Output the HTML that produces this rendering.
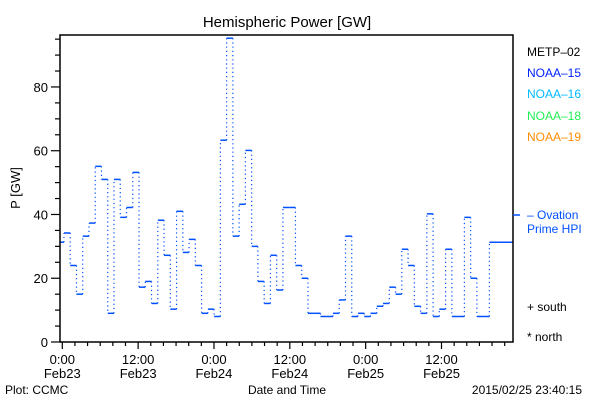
<!DOCTYPE html>
<html><head><meta charset="utf-8"><style>
body{margin:0;background:#fff}
svg{display:block;font-family:"Liberation Sans",sans-serif}
</style></head><body>
<svg id="chart" width="600" height="400" viewBox="0 0 600 400">
<rect x="0" y="0" width="600" height="400" fill="#fff"/>
<text x="287" y="27" font-size="15" text-anchor="middle">Hemispheric Power [GW]</text>
<g id="yaxis"></g>
<g id="xaxis"></g>
<g id="series"></g>
<rect x="60" y="35" width="453" height="307" fill="none" stroke="#000" stroke-width="1.5"/>
<text x="20" y="188" font-size="13" text-anchor="middle" transform="rotate(-90 20 188)">P [GW]</text>
<text x="287" y="394" font-size="12" text-anchor="middle">Date and Time</text>
<text x="5" y="394" font-size="12">Plot: CCMC</text>
<text x="582" y="394" font-size="12" text-anchor="end">2015/02/25 23:40:15</text>
<g font-size="12">
<text x="527" y="56" fill="#000">METP–02</text>
<text x="527" y="77" fill="#0022ff">NOAA–15</text>
<text x="527" y="98" fill="#00bbff">NOAA–16</text>
<text x="527" y="120" fill="#22ee55">NOAA–18</text>
<text x="527" y="141" fill="#ff8c00">NOAA–19</text>
<line x1="513" y1="215" x2="520" y2="215" stroke="#0050ff" stroke-width="1.5"/>
<text x="527" y="219" fill="#0050ff">– Ovation</text>
<text x="527" y="233" fill="#0050ff">Prime HPI</text>
<text x="527" y="311" fill="#000">+ south</text>
<text x="527" y="341" fill="#000">* north</text>
</g>
</svg>
<script>
const yTicks=[0,20,40,60,80];
const xTickHours=[0,12,24,36,48,60];
const xTickTimes=["0:00","12:00","0:00","12:00","0:00","12:00"];
const xTickDates=["Feb23","Feb23","Feb24","Feb24","Feb25","Feb25"];
const power=[31.3,34.2,24,15,33.2,37.3,55.1,51,9,51,39.1,42.2,53.2,17.2,19,12.1,38.2,27.2,10.3,41,28.1,32.2,24,9,10.3,8,63.3,95.3,33.2,43.2,60.1,30,19,12.1,27.2,16.3,42.2,42.2,24,20,9,9,8,8,9,13.2,33.2,8,9,8,9,11.2,12.1,17.2,15,29.1,24,11.2,9,40.2,8,10.3,29.1,8,8,39.1,20,8,8,31.3];
const startHour=-0.73, cadence=0.99;
const X0=60,X1=513,Y0=342,Y1=35;
const H0=-0.3,H1=71.3,V1=96.3;
const ns="http://www.w3.org/2000/svg";
const xs=h=>62.3+(h)*6.32;
const ys=v=>Y0-(v/V1)*(Y0-Y1);
function mk(tag,at,parent){const e=document.createElementNS(ns,tag);for(const k in at)e.setAttribute(k,at[k]);parent.appendChild(e);return e;}
const ya=document.getElementById('yaxis');
for(let v=0;v<=95;v+=5){
  const major=v%20===0;
  const t=mk('line',{x1:major?51:55,x2:60,y1:ys(v),y2:ys(v),stroke:'#000','stroke-width':1.2},ya);
  
  
}
yTicks.forEach(v=>{
  const t=mk('text',{x:48,y:ys(v)+5,'font-size':13,'text-anchor':'end'},ya);
  t.textContent=v;
  
  
});
const xa=document.getElementById('xaxis');
for(let h=0;h<=70;h+=2){
  const major=h%12===0;
  const t=mk('line',{x1:xs(h),x2:xs(h),y1:342,y2:major?349:346,stroke:'#000','stroke-width':1.2},xa);
  
  
}
xTickHours.forEach((h,i)=>{
  const a=mk('text',{x:xs(h),y:364,'font-size':13,'text-anchor':'middle'},xa);
  a.textContent=xTickTimes[i];
  
  
  const b=mk('text',{x:xs(h),y:378,'font-size':13,'text-anchor':'middle'},xa);
  b.textContent=xTickDates[i];
  
  
});
const sg=document.getElementById('series');
let prevY=null;
power.forEach((v,i)=>{
  let xa_=xs(startHour+i*cadence), xb_=xs(startHour+(i+1)*cadence);
  if(i===power.length-1) xb_=X1;
  xa_=Math.max(X0,xa_); xb_=Math.min(X1,xb_);
  const y=ys(v);
  if(prevY!==null){
    const d=mk('line',{x1:xa_,x2:xa_,y1:prevY,y2:y,stroke:'#0050ff','stroke-width':1.2,'stroke-dasharray':'1.2,3'},sg);
    
    
  }
  const s=mk('line',{x1:xa_,x2:xb_,y1:y,y2:y,stroke:'#0050ff','stroke-width':1.5},sg);
  
  
  prevY=y;
});
</script>
</body></html>
